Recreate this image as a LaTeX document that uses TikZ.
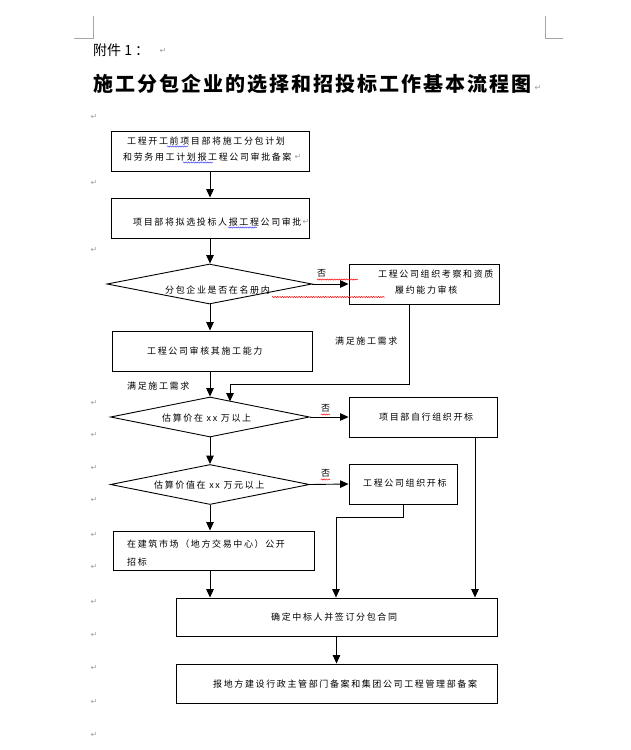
\documentclass[tikz,border=0pt]{standalone}
\usepackage{fontspec}
\usetikzlibrary{arrows.meta,shapes.geometric,decorations.pathmorphing}
\newfontfamily\zhf[LetterSpace=18]{Noto Sans CJK SC}
\newfontfamily\zhplain{Noto Sans CJK SC}
\newfontfamily\zhtitle[LetterSpace=10]{Noto Sans CJK SC}
\newfontfamily\symf{DejaVu Sans}
\tikzset{
  bx/.style={draw, line width=0.9pt, inner sep=0pt},
  dm/.style={draw, shape=diamond, line width=0.9pt, inner sep=0pt},
  tx/.style={font=\zhf\fontsize{9}{11}\selectfont, inner sep=0pt, anchor=west},
  nolab/.style={font=\zhplain\fontsize{9}{10}\selectfont, inner sep=0pt, anchor=west},
  arr/.style={line width=0.9pt, -{Triangle[length=8.5pt,width=7.5pt]}},
  ln/.style={line width=0.9pt},
  pmk/.style={font=\symf\fontsize{8}{8}\selectfont, text=gray!75, inner sep=0pt},
  crop/.style={draw=gray!70, line width=0.6pt},
  redsq/.style={draw=red, line width=0.5pt, decorate, decoration={snake, amplitude=0.6pt, segment length=2.4pt}},
  bluesq/.style={draw=blue!75, line width=0.5pt, decorate, decoration={snake, amplitude=0.6pt, segment length=2.4pt}},
}
\begin{document}
\begin{tikzpicture}[x=1pt,y=-1pt]
\useasboundingbox[fill=white] (0,0) rectangle (631,750);
% crop marks
\draw[crop] (74,38) -- (93,38) -- (93,16);
\draw[crop] (545,16) -- (545,38) -- (563,38);
% heading
\node[anchor=west, inner sep=0pt, font=\zhplain\fontsize{14}{16}\selectfont] (att) at (93,50) {附件 1 ：};
\node[anchor=west, inner sep=0pt, font=\zhtitle\bfseries\fontsize{20}{22}\selectfont] (title) at (93,84) {施工分包企业的选择和招投标工作基本流程图};
\node[pmk] (pmA) at (163,51) {↵};
\node[pmk] (pmB) at (538,88) {↵};
% paragraph marks in the margin
\foreach \yy [count=\i] in {117,183,250,403,435,468,500,535,567,602,635,668,702,735}
  \node[pmk] (pm\i) at (94,\yy) {↵};

% boxes
\node[bx, minimum width=198pt, minimum height=40pt] (b1) at (210,151.5) {};
\node[bx, minimum width=198pt, minimum height=40pt] (b2) at (210,218) {};
\node[dm, minimum width=205pt, minimum height=40pt] (d1) at (209.5,284) {};
\node[bx, minimum width=150pt, minimum height=40pt] (r1) at (424,284) {};
\node[bx, minimum width=200pt, minimum height=40pt] (b3) at (212,351) {};
\node[dm, minimum width=199pt, minimum height=40pt] (d2) at (210,417) {};
\node[bx, minimum width=148pt, minimum height=40pt] (r2) at (423,417) {};
\node[dm, minimum width=199pt, minimum height=40pt] (d3) at (210,484.5) {};
\node[bx, minimum width=108pt, minimum height=40pt] (r3) at (403,484) {};
\node[bx, minimum width=201pt, minimum height=39pt] (b4) at (213.5,550.5) {};
\node[bx, minimum width=321pt, minimum height=38pt] (b5) at (336.5,617) {};
\node[bx, minimum width=321pt, minimum height=39pt] (b6) at (336.5,683.5) {};

% texts
\node[tx] (t1a) at (127,141) {工程开工前项目部将施工分包计划};
\node[tx] (t1b) at (123,157) {和劳务用工计划报工程公司审批备案};
\node[pmk] (pmC) at (298,157) {↵};
\node[tx] (t2) at (133,222) {项目部将拟选投标人报工程公司审批};
\node[pmk] (pmD) at (306,222) {↵};
\node[tx] (t3) at (165,290) {分包企业是否在名册内};
\node[tx] (t4a) at (378,274) {工程公司组织考察和资质};
\node[tx] (t4b) at (395,290) {履约能力审核};
\node[tx] (t5) at (147,351) {工程公司审核其施工能力};
\node[tx] (t6) at (335,341) {满足施工需求};
\node[tx] (t7) at (127,386) {满足施工需求};
\node[tx] (t8) at (162,418) {估算价在 xx 万以上};
\node[tx] (t9) at (379,417) {项目部自行组织开标};
\node[tx] (t10) at (154,485) {估算价值在 xx 万元以上};
\node[tx] (t11) at (363,483) {工程公司组织开标};
\node[tx] (t12a) at (127,544) {在建筑市场（地方交易中心）公开};
\node[tx] (t12b) at (127,562) {招标};
\node[tx] (t13) at (271,617) {确定中标人并签订分包合同};
\node[tx] (t14) at (213,684) {报地方建设行政主管部门备案和集团公司工程管理部备案};
\node[nolab] (n1) at (317,273) {否};
\node[nolab] (n2) at (321,408) {否};
\node[nolab] (n3) at (321,473) {否};

% spell-check underlines
\draw[redsq] (317,279.5) -- (358,279.5);
\draw[redsq] (272,297) -- (385,297);
\draw[redsq] (321,414.5) -- (330,414.5);
\draw[redsq] (321,479.5) -- (330,479.5);
\draw[bluesq] (167,146.5) -- (188,146.5);
\draw[bluesq] (183,162.5) -- (213,162.5);
\draw[bluesq] (228,227.5) -- (257,227.5);

% connectors
\coordinate (c1) at (409,384);
\coordinate (c2) at (230,384);
\coordinate (c3) at (403,517);
\coordinate (c4) at (336,517);
\coordinate (c5) at (475,437);
\draw[arr] (b1) -- (b2);
\draw[arr] (b2) -- (d1.north -| b2);
\draw[arr] (d1.east) -- (r1.west);
\draw[arr] (d1.south -| b2) -- (b3.north -| b2);
\draw[arr] (b3.south -| b2) -- (d2.north);
\draw[ln] (r1.south -| c1) -- (c1) -- (c2);
\draw[arr] (c2) -- (230,401.5);
\draw[arr] (d2.east) -- (r2.west);
\draw[arr] (d2.south) -- (d3.north);
\draw[arr] (d3.east) -- (r3.west);
\draw[arr] (d3.south) -- (d3.south |- b4.north);
\draw[arr] (b4.south -| d3.south) -- (b5.north -| d3.south);
\draw[ln] (r3.south -| c3) -- (c3) -- (c4);
\draw[arr] (c4) -- (b5.north -| c4);
\draw[arr] (r2.south -| c5) -- (b5.north -| c5);
\draw[arr] (b5) -- (b6);
\end{tikzpicture}
\end{document}
